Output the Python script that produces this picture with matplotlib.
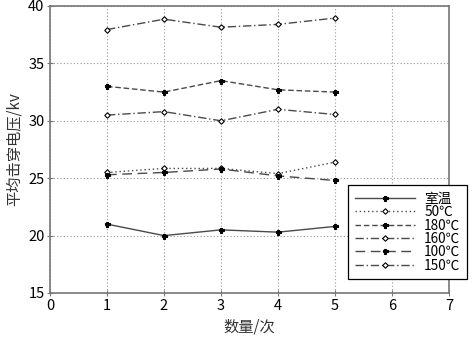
import matplotlib
matplotlib.use("Agg")
import matplotlib.pyplot as plt

plt.rcParams['font.family'] = ['Noto Sans CJK SC', 'DejaVu Sans']

x = [1, 2, 3, 4, 5]
labels = ['室温', '50℃', '180℃', '160℃', '100℃', '150℃']
room = [21.0, 20.0, 20.5, 20.3, 20.8]
t50 = [25.5, 25.85, 25.85, 25.4, 26.4]
t180 = [33.0, 32.5, 33.5, 32.7, 32.5]
t160 = [37.95, 38.85, 38.15, 38.4, 38.95]
t100 = [25.3, 25.5, 25.8, 25.2, 24.8]
t150 = [30.5, 30.8, 30.0, 31.0, 30.55]
series = [room, t50, t180, t160, t100, t150]

xticks = [0, 1, 2, 3, 4, 5, 6, 7]
yticks = [15, 20, 25, 30, 35, 40]

styles = [
    dict(ls='-', marker='P', mfc='black'),
    dict(ls=(0, (1, 2)), marker='D', mfc='white'),
    dict(ls=(0, (4, 2)), marker='P', mfc='black'),
    dict(ls=(0, (6, 2, 1, 2)), marker='D', mfc='white'),
    dict(ls=(0, (7, 4)), marker='P', mfc='black'),
    dict(ls=(0, (6, 2, 1, 2)), marker='D', mfc='white'),
]

fig = plt.figure(figsize=(4.72, 3.41), dpi=100)
ax = fig.add_axes([50 / 472, 1 - 293 / 341, (449 - 50) / 472, (293 - 6) / 341])

for vals, lab, st in zip(series, labels, styles):
    ms = 3.6 if st['marker'] == 'P' else 2.8
    ax.plot(x, vals, color='#4a4a4a', lw=1.0, linestyle=st['ls'],
            marker=st['marker'], markersize=ms, markerfacecolor=st['mfc'],
            markeredgecolor='black', markeredgewidth=0.8, label=lab)

ax.set_xlim(0, 7)
ax.set_ylim(15, 40)
ax.set_xticks(xticks)
ax.set_yticks(yticks)
ax.grid(True, linestyle=(0, (1, 2)), color='#999999', lw=0.8)
for s in ax.spines.values():
    s.set_color('#777777')
    s.set_linewidth(1.2)
ax.tick_params(direction='inout', length=4, color='#777777', labelsize=10.5,
               pad=2)
ax.set_xlabel('数量/次', fontsize=11, color='#333333', labelpad=4)
ax.set_ylabel('平均击穿电压/kv', fontsize=11, color='#333333', labelpad=4)

leg = ax.legend(loc='upper left', bbox_to_anchor=(348 / 472, 1 - 185 / 341),
                bbox_transform=fig.transFigure, fontsize=9.8, frameon=True,
                fancybox=False, edgecolor='black', framealpha=1,
                labelspacing=-0.05, handlelength=4.4, handletextpad=0.7,
                borderpad=0.5, borderaxespad=0)
leg.get_frame().set_linewidth(0.9)
leg.set_clip_on(False)

fig.savefig('out.png', dpi=100)
